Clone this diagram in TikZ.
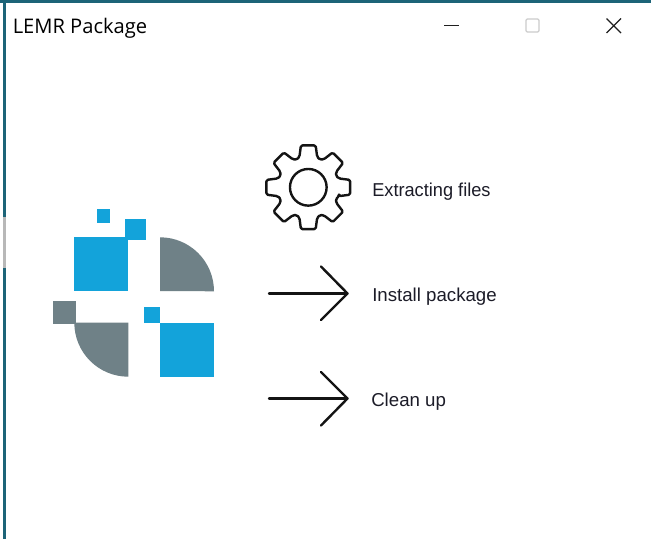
\documentclass[tikz,border=0pt]{standalone}
\usepackage{fontspec}
\setmainfont{Liberation Sans}
\newfontfamily\titlefont{Open Sans}
\definecolor{logoblue}{HTML}{13A3DA}
\definecolor{logogray}{HTML}{6F8187}
\definecolor{frameteal}{HTML}{1D6478}
\definecolor{labelink}{HTML}{1C1C28}
\tikzset{
  bluepart/.style={fill=logoblue,draw=none},
  graypart/.style={fill=logogray,draw=none},
  iconline/.style={draw=black!92,line width=1.8pt,line cap=round,line join=round},
  steplabel/.style={anchor=base west,inner sep=0pt,text=labelink,font=\fontsize{14}{16}\selectfont},
  winline/.style={draw=black!88,line width=0.85pt}
}
\begin{document}
\begin{tikzpicture}[x=0.75pt,y=-0.75pt]
\useasboundingbox (0,0) rectangle (651,539);
\fill[white] (0,0) rectangle (651,539);
% frame
\fill[frameteal] (0,0) rectangle (651,3.2);
\fill[frameteal] (3,0) rectangle (6.2,539);
\fill[black!28] (3,217) rectangle (6.2,268);
% title bar
\node[anchor=base west,inner sep=0pt,font=\titlefont\fontsize{15.1}{18}\selectfont] (title) at (12.5,33.5) {LEMR Package};
\draw[winline] (444,25.4) -- (459,25.4);
\draw[draw=black!20,line width=0.9pt,rounded corners=1pt] (526,19) rectangle (539,32);
\draw[winline] (606.5,18.5) -- (621,33);
\draw[winline] (621,18.5) -- (606.5,33);
% logo
\fill[bluepart] (74.3,237.3) rectangle (128.3,291);
\fill[bluepart] (96.7,209.3) rectangle (110,223);
\fill[bluepart] (125.3,219.3) rectangle (145.7,239.7);
\fill[graypart] (160,291) -- (160,237.3) arc[start angle=-90,end angle=0,radius=54] -- cycle;
\fill[graypart] (53.3,301) rectangle (76,324);
\fill[graypart] (128.3,322.7) -- (74.3,322.7) arc[start angle=180,end angle=90,radius=54] -- cycle;
\fill[bluepart] (160,322.7) rectangle (214,376.7);
\fill[bluepart] (144,307) rectangle (160,322.7);
% gear
\begin{scope}[shift={(308.3,187.3)},y=0.75pt]
\draw[iconline,rounded corners=1.1pt] (-16:32)
  \foreach \a in {0,45,...,315} {
    -- (\a-16:32) -- (\a-10:42.5) -- (\a+10:42.5) -- (\a+16:32) -- (\a+22.5:30)
  } -- cycle;
\node[circle,draw=black!92,line width=1.8pt,minimum size=27.5pt,inner sep=0pt] (hub) at (0,0) {};
\end{scope}
% arrows
\coordinate (a1s) at (269,293.5);
\coordinate (a1t) at (347.5,293.5);
\coordinate (a1u) at (321,266.5);
\coordinate (a1d) at (321,320);
\draw[iconline] (a1s) -- (a1t);
\draw[iconline] (a1u) -- (a1t) -- (a1d);
\coordinate (a2s) at (269,398.5);
\coordinate (a2t) at (347.5,398.5);
\coordinate (a2u) at (321,372);
\coordinate (a2d) at (321,425.5);
\draw[iconline] (a2s) -- (a2t);
\draw[iconline] (a2u) -- (a2t) -- (a2d);
% labels
\node[steplabel,xscale=0.975] (l1) at (372,196) {Extracting files};
\node[steplabel] (l2) at (372,301) {Install package};
\node[steplabel] (l3) at (371,406) {Clean up};
\end{tikzpicture}
\end{document}
